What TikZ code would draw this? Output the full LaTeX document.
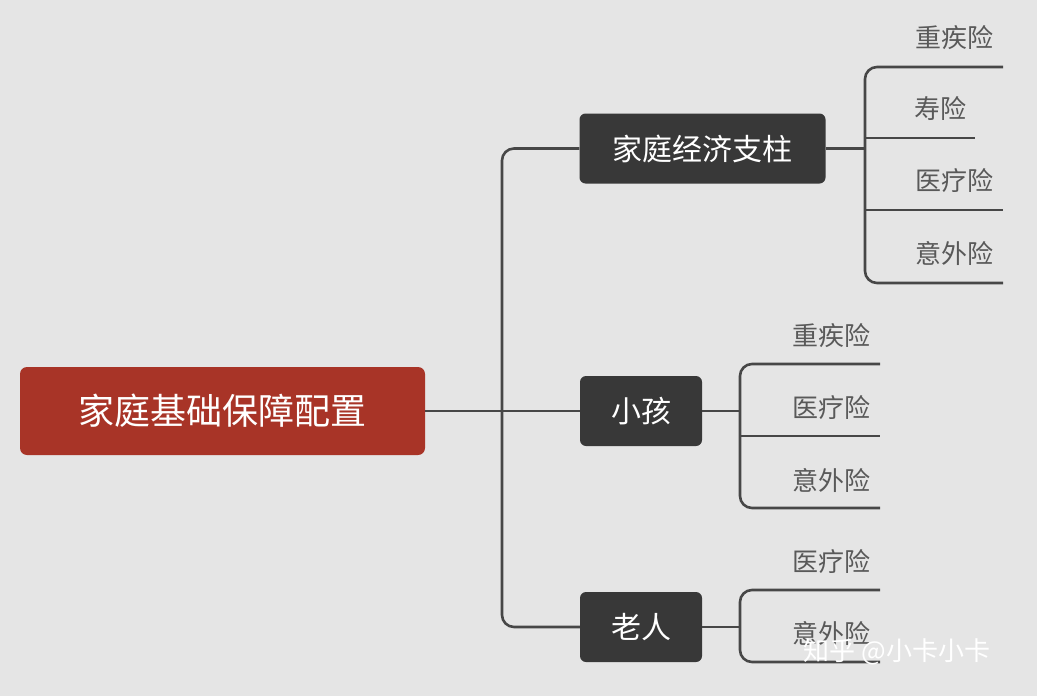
\documentclass[tikz,border=0pt]{standalone}
\usepackage{fontspec}
\setmainfont{Noto Sans CJK SC}
\definecolor{rootred}{HTML}{A83427}
\definecolor{boxdark}{HTML}{383838}
\begin{document}
\begin{tikzpicture}[x=1pt,y=-1pt,
  conn/.style={draw=black!72,line width=2.6pt,rounded corners=12pt},
  mid/.style={fill=boxdark,rounded corners=6pt,text=white,font=\fontsize{30}{30}\selectfont,inner sep=0pt,minimum height=70pt},
  leaf/.style={text=black!65,font=\fontsize{26}{26}\selectfont,inner sep=0pt}]
\fill[black!10] (0,0) rectangle (1037,696);
\useasboundingbox (0,0) rectangle (1037,696);
\node[fill=rootred,rounded corners=7pt,text=white,font=\fontsize{36}{36}\selectfont,minimum width=405pt,minimum height=88pt,inner sep=0pt] (root) at (222.5,411) {家庭基础保障配置};
\node[mid,minimum width=246pt] (a) at (702.5,148.5) {家庭经济支柱};
\node[mid,minimum width=122pt] (b) at (641,411) {小孩};
\node[mid,minimum width=122pt] (c) at (641,627) {老人};
\draw[conn] (root.east) -- (b.west);
\draw[conn] (a.west) -- (502,148.5) -- (502,627) -- (c.west);
% group a
\node[leaf] (a1) at (954,38) {重疾险};
\node[leaf] (a2) at (940,109) {寿险};
\node[leaf] (a3) at (954,181) {医疗险};
\node[leaf] (a4) at (954,253) {意外险};
\draw[conn] (a.east) -- (865,148.5);
\draw[conn] (1003,67) -- (865,67) -- (865,283) -- (1003,283);
\draw[conn] (865,138) -- (975,138);
\draw[conn] (865,210) -- (1003,210);
% group b
\node[leaf] (b1) at (831,336) {重疾险};
\node[leaf] (b2) at (831,408) {医疗险};
\node[leaf] (b3) at (831,480) {意外险};
\draw[conn] (b.east) -- (740,411);
\draw[conn] (880,364) -- (740,364) -- (740,508) -- (880,508);
\draw[conn] (740,436) -- (880,436);
% group c
\node[leaf] (c1) at (831,562) {医疗险};
\node[leaf] (c2) at (831,633) {意外险};
\draw[conn] (c.east) -- (740,627);
\draw[conn] (880,590) -- (740,590) -- (740,662) -- (880,662);
\node[text=white,font=\fontsize{26}{26}\selectfont,inner sep=0pt] (wm) at (897,652) {知乎 @小卡小卡};
\end{tikzpicture}
\end{document}
